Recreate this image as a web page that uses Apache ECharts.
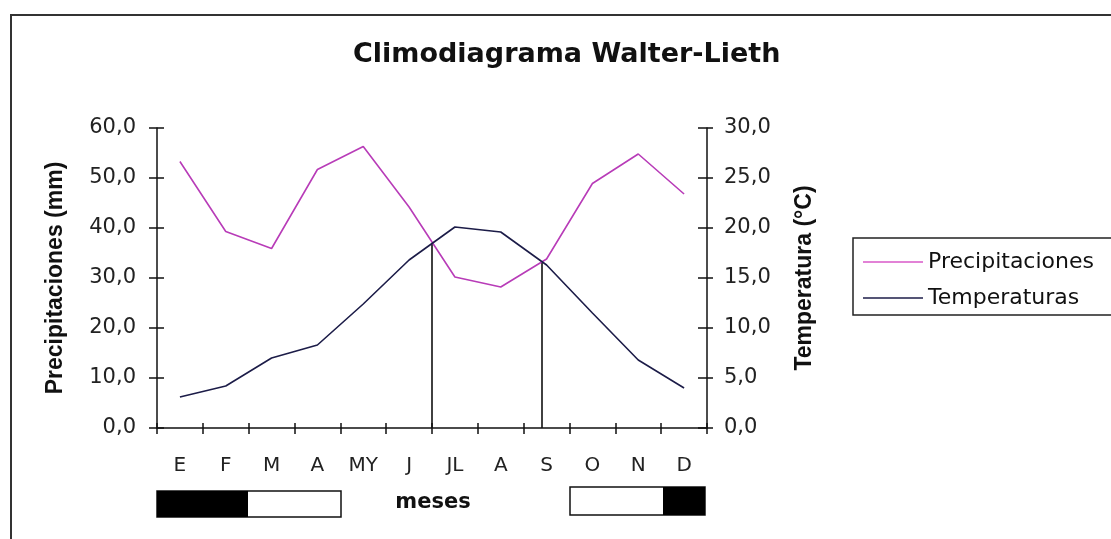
<!DOCTYPE html>
<html>
<head>
<meta charset="utf-8">
<script src="https://cdn.jsdelivr.net/npm/echarts@6/dist/echarts.min.js"></script>
<style>
html, body { margin: 0; padding: 0; background: #fff; }
#chart { width: 1111px; height: 539px; }
</style>
</head>
<body>
<div id="chart"></div>
<script>
// meses y valores
var meses = ['E', 'F', 'M', 'A', 'MY', 'J', 'JL', 'A', 'S', 'O', 'N', 'D'];
var precipitaciones = [53.3, 39.3, 35.9, 51.7, 56.3, 44.2, 30.2, 28.2, 33.8, 48.9, 54.8, 46.8];
var temperaturas = [3.1, 4.2, 7.0, 8.3, 12.4, 16.8, 20.1, 19.6, 16.3, 11.5, 6.8, 4.0];
// cortes de las dos curvas (posicion en meses, altura en mm)
var corteX = [6.0, 8.4];
var corteY = [37.0, 33.2];

var chart = echarts.init(document.getElementById('chart'));

function coma(v) {
    return v.toFixed(1).replace('.', ',');
}

var fuente = 'DejaVu Sans';

var series = [
    {
        name: 'Precipitaciones',
        type: 'line',
        xAxisIndex: 0,
        yAxisIndex: 0,
        symbol: 'none',
        data: precipitaciones,
        lineStyle: { color: '#b83cb8', width: 1.6 },
        itemStyle: { color: '#d858c8' },
        z: 3
    },
    {
        name: 'Temperaturas',
        type: 'line',
        xAxisIndex: 0,
        yAxisIndex: 1,
        symbol: 'none',
        data: temperaturas,
        lineStyle: { color: '#1c1c48', width: 1.6 },
        itemStyle: { color: '#1c1c48' },
        z: 3
    }
];
corteX.forEach(function (x, i) {
    series.push({
        name: 'corte' + i,
        type: 'line',
        xAxisIndex: 2,
        yAxisIndex: 0,
        symbol: 'none',
        silent: true,
        data: [[x, 0], [x, corteY[i]]],
        lineStyle: { color: '#111', width: 1.6 },
        z: 2
    });
});

var option = {
    animation: false,
    title: {
        text: 'Climodiagrama Walter-Lieth',
        left: 348,
        top: 36,
        textStyle: { fontFamily: fuente, fontWeight: 'bold', fontSize: 27, color: '#111' }
    },
    legend: {
        data: ['Precipitaciones', 'Temperaturas'],
        orient: 'vertical',
        left: 853,
        top: 238,
        padding: [13, 30, 6, 10],
        itemGap: 14,
        icon: 'rect',
        itemWidth: 60,
        itemHeight: 1.5,
        borderColor: '#222',
        borderWidth: 1.5,
        textStyle: { fontFamily: fuente, fontSize: 22, color: '#111' }
    },
    grid: {
        left: 157,
        right: 404,
        top: 128,
        bottom: 111
    },
    xAxis: [
        {
            type: 'category',
            data: meses,
            boundaryGap: true,
            axisLine: { lineStyle: { color: '#111', width: 1.5 } },
            axisTick: { show: true, length: 6, lineStyle: { color: '#111', width: 1.5 } },
            axisLabel: { margin: 28, fontFamily: fuente, fontSize: 20, color: '#222' },
            splitLine: { show: false }
        },
        {
            type: 'category',
            data: meses,
            boundaryGap: true,
            position: 'bottom',
            axisLine: { show: false },
            axisTick: { show: true, inside: true, length: 5, lineStyle: { color: '#111', width: 1.5 } },
            axisLabel: { show: false },
            splitLine: { show: false }
        },
        {
            type: 'value',
            min: 0,
            max: 12,
            show: false
        }
    ],
    yAxis: [
        {
            type: 'value',
            position: 'left',
            min: 0,
            max: 60,
            interval: 10,
            name: 'Precipitaciones (mm)',
            nameLocation: 'middle',
            nameRotate: 90,
            nameGap: 90,
            nameTextStyle: { fontFamily: 'Liberation Sans', fontWeight: 'bold', fontSize: 23, color: '#111' },
            axisLine: { show: true, lineStyle: { color: '#111', width: 1.5 } },
            axisTick: { show: true, length: 8, lineStyle: { color: '#111', width: 1.5 } },
            axisLabel: { margin: 21, fontFamily: fuente, fontSize: 21, color: '#222', formatter: coma },
            splitLine: { show: false }
        },
        {
            type: 'value',
            position: 'right',
            min: 0,
            max: 30,
            interval: 5,
            name: 'Temperatura (°C)',
            nameLocation: 'middle',
            nameRotate: 90,
            nameGap: 86,
            nameTextStyle: { fontFamily: 'Liberation Sans', fontWeight: 'bold', fontSize: 23, color: '#111' },
            axisLine: { show: true, lineStyle: { color: '#111', width: 1.5 } },
            axisTick: { show: true, length: 6, lineStyle: { color: '#111', width: 1.5 } },
            axisLabel: { margin: 17, fontFamily: fuente, fontSize: 21, color: '#222', formatter: coma },
            splitLine: { show: false }
        },
        {
            type: 'value',
            position: 'left',
            min: 0,
            max: 60,
            interval: 10,
            axisLine: { show: false },
            axisTick: { show: true, inside: true, length: 7, lineStyle: { color: '#111', width: 1.5 } },
            axisLabel: { show: false },
            splitLine: { show: false }
        },
        {
            type: 'value',
            position: 'right',
            min: 0,
            max: 30,
            interval: 5,
            axisLine: { show: false },
            axisTick: { show: true, inside: true, length: 9, lineStyle: { color: '#111', width: 1.5 } },
            axisLabel: { show: false },
            splitLine: { show: false }
        }
    ],
    graphic: [
        {
            type: 'rect',
            shape: { x: 11, y: 15, width: 1200, height: 600 },
            style: { fill: 'none', stroke: '#333', lineWidth: 2 },
            silent: true
        },
        // barras de meses secos
        {
            type: 'rect',
            shape: { x: 157, y: 491, width: 184, height: 26 },
            style: { fill: '#fff', stroke: '#111', lineWidth: 1.5 }
        },
        {
            type: 'rect',
            shape: { x: 157, y: 491, width: 91, height: 26 },
            style: { fill: '#000' }
        },
        {
            type: 'rect',
            shape: { x: 570, y: 487, width: 135, height: 28 },
            style: { fill: '#fff', stroke: '#111', lineWidth: 1.5 }
        },
        {
            type: 'rect',
            shape: { x: 663, y: 487, width: 42, height: 28 },
            style: { fill: '#000' }
        },
        {
            type: 'text',
            x: 433,
            y: 503,
            style: {
                text: 'meses',
                fontFamily: fuente,
                fontWeight: 'bold',
                fontSize: 21,
                fill: '#111',
                align: 'center',
                verticalAlign: 'middle'
            }
        }
    ],
    series: series
};

chart.setOption(option);

window.onresize = function () {
    chart.resize();
};
</script>
</body>
</html>
